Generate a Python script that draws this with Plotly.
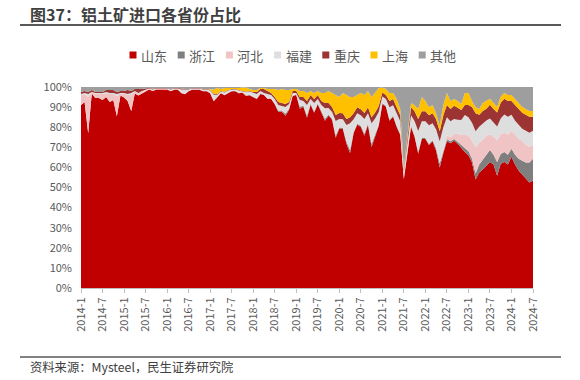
import plotly.graph_objects as go

# ---------------- data ----------------
months = [f"{y}-{m}" for y in range(2014, 2025) for m in range(1, 13)][:127]
tick_labels = months[::6]

series_names = ["山东", "浙江", "河北", "福建", "重庆", "上海", "其他"]
series_colors = ["#C00000", "#7F7F7F", "#F0C4C4", "#DEDEDE", "#9C3434", "#FFC000", "#9E9E9E"]

shandong = [
    91, 93, 77, 97, 95, 94.5, 93.5, 95, 92.5, 93.5,
    85.5, 96, 95, 93, 88, 97, 96, 97, 98, 99,
    98, 99, 99, 99, 99, 98, 99, 99, 97, 96,
    98, 99, 99, 99, 98, 98, 97, 93, 95, 97,
    96, 97, 98, 98, 97, 97.5, 95.5, 96, 95, 94,
    96.5, 96, 94, 94, 91.5, 88, 88, 86, 89, 95.5,
    96, 89, 90.5, 85, 91.5, 87, 92, 88, 83, 86,
    84, 75, 80, 79, 72, 67, 77, 81, 80, 76,
    81, 70, 75, 81, 92, 90, 83, 85, 80, 76,
    54, 66, 80, 75, 67, 74, 74, 71, 73, 68,
    60, 67, 73, 72, 73, 72, 70, 68, 66, 63,
    54, 58, 59, 62, 64, 62, 57, 63, 64, 62,
    66, 62, 59, 57, 55, 53, 54,
]
zhejiang = (
    [0] * 22 + [0.1] * 26 +
    [0.2, 0.2, 0.2, 0.2, 0.2, 0.2, 0.3, 0.5, 0.5, 1, 0.5, 0.2, 0.2, 1, 0.5, 1, 0.5, 0.5,
     0.3, 0.5, 1, 0.5, 0.5, 1, 0.5, 0.5, 1, 1.5, 0.5, 0.5, 0.5, 1, 0.5, 1.5, 1, 0.5] +
    [0.5, 0.5, 0.5, 0.5, 0.5, 0.5, 0.5, 0.5, 0.5, 0.5, 1, 0.5, 0.5, 0.5, 0.5, 1,
     2, 1, 1, 1] +
    [0.8, 1, 1.5, 1.5, 2, 2, 3, 4, 5, 6, 6, 5, 7, 5, 5, 5, 4, 5, 6, 7, 8, 10, 11]
)
hebei = (
    [5, 4, 18, 0.5, 2, 2, 3, 2, 4, 3, 10, 1, 2, 3, 8, 1, 1, 1, 0.5, 0.3, 0.5, 0.3] +
    [0.2] * 26 + [0.3] * 50 + [0.5, 0.5] + [1, 1, 2, 2] +
    [2.5, 4, 5, 7, 8, 9, 13, 11, 10, 9, 8, 9, 11, 10, 10, 10, 9, 10, 10, 10, 9, 8, 7]
)
fujian = (
    [0.5, 0.5, 1.5, 0.3, 0.5, 0.5, 0.5, 0.5, 0.5, 0.5, 1, 0.3, 0.3, 0.5, 1, 0.3, 0.3, 0.3,
     0.3, 0.2, 0.3, 0.2] +
    [0.2, 0.2, 0.2, 0.5, 0.3, 0.3, 1.5, 2, 0.5, 0.3, 0.2, 0.3, 0.5, 0.5, 1, 3, 1, 0.5, 1, 1,
     0.5, 0.5, 1, 0.5, 1.5, 1.5] +
    [1.5, 2, 1, 0.5, 2, 1.5, 2, 2.5, 2, 3, 2, 1, 0.5, 3, 2, 5, 2, 4, 2, 3, 5, 3, 3, 7, 4, 4,
     8, 13, 6, 5, 5, 7, 5, 10, 8, 6] +
    [3, 3, 6, 5, 6, 6, 3, 5, 5, 7, 10, 8, 8, 9, 8, 9, 10, 11, 9, 8] +
    [7.5, 7, 7.5, 10, 9, 9, 8, 8, 8, 8, 8, 7, 7, 8, 9, 9, 8, 7, 7, 6, 7, 7, 7]
)
chongqing = (
    [1, 1, 1, 1, 0.5, 0.5, 0.5, 1, 1.5, 1.5, 1, 1, 1, 2, 1, 1, 2, 1, 0.5, 0.3, 0.3, 0.3] +
    [0.3, 0.3, 0.3, 0.3, 0.3, 0.3, 0.5, 0.3, 0.3, 0.3, 0.3, 0.3, 0.3, 0.3, 0.3, 0.5, 0.3,
     0.3, 0.3, 0.3, 0.3, 0.3, 0.3, 0.3, 0.3, 0.3] +
    [0.5, 1, 1, 2, 1.5, 1, 1, 1.5, 1.5, 1.5, 1, 1, 1, 1.5, 2, 2, 2, 2, 2, 2, 2.5, 2.5, 2.5,
     3, 3, 3, 3, 3, 3, 3, 3, 3, 3, 3, 3, 3] +
    [2, 2, 3, 3, 3, 3, 1, 2, 4, 5, 6, 5, 5, 5, 5, 5, 5, 6, 6, 6] +
    [6.5, 6, 5, 5, 6, 8, 9, 6, 6, 6, 7, 7, 7, 8, 8, 8, 7, 8, 8, 8, 8, 8, 7]
)
shanghai = (
    [0] * 36 +
    [0.5, 2, 3, 1, 2, 1, 0.5, 0.3, 1, 1.5, 2, 1] +
    [1, 1, 0.5, 0.5, 1, 2, 4, 6, 7, 7, 6, 1, 1, 3, 3, 4, 2, 3, 2, 4, 5, 6, 7, 10, 8, 10, 12,
     10, 8, 6, 8, 9, 8, 10, 10, 9] +
    [2.5, 3, 4, 3, 4, 3, 1, 2, 2, 3, 5, 7, 5, 4, 4, 3, 3, 5, 6, 4] +
    [3.3, 3.3, 3, 6, 6, 3, 3, 3, 4, 4, 3, 3, 3, 3, 3, 3, 3, 3, 3, 3, 3, 3, 3]
)
others = (
    [2.5, 2, 2.5, 1.5, 2.5, 2.5, 2.5, 1.5, 1.5, 1.5, 2.5, 2, 2, 1.5, 2, 1, 1, 1] +
    [0.7, 0.5, 0.9, 0.5, 0.5, 0.5, 0.5, 1, 0.5, 0.5, 0.8, 1, 1, 0.5, 0.5, 0.5, 1, 1, 1, 1.3,
     0.5, 1, 0.5, 0.5, 0.5, 0.7, 0.5, 0.3, 0.3, 1] +
    [1.5, 1.5, 0.5, 0.5, 1, 1, 1, 1.5, 1, 1.5, 1.5, 1, 1, 2, 2, 3, 2, 3, 2, 3, 3, 2, 3, 4, 5,
     3, 4, 5, 5, 4, 3, 4, 2, 5, 2.7, 0.5] +
    [0.3, 1, 3, 3, 6, 11, 40, 24, 8, 9, 11, 5, 7, 10, 9, 13, 19, 9, 3, 7] +
    [6, 7, 8.5, 3, 3, 7, 10, 11, 8, 7, 6, 8, 10, 5, 3, 4, 4, 6, 8, 10, 11, 12, 12]
)

series_values = [shandong, zhejiang, hebei, fujian, chongqing, shanghai, others]
for s in series_values:
    assert len(s) == len(months), len(s)

# ---------------- figure ----------------
fig = go.Figure()
for k, (name, vals, col) in enumerate(zip(series_names, series_values, series_colors)):
    fig.add_trace(go.Scatter(
        x=months, y=vals, name=name, mode="lines",
        stackgroup="one", groupnorm="percent" if k == 0 else None,
        line=dict(width=0, color=col), fillcolor=col,
        showlegend=False,
    ))

W, H = 580, 380
L, R, T, B = 81, 533, 87, 288
pw, ph = R - L, B - T

def px(x):
    return (x - L) / pw

def py(y):
    return (B - y) / ph

shapes = []
annotations = []

# legend (manual: small squares + labels)
for k, (name, col) in enumerate(zip(series_names, series_colors)):
    cx = 133 + 48.2 * k
    cy = 55
    shapes.append(dict(type="rect", xref="paper", yref="paper",
                       x0=px(cx - 3.5), x1=px(cx + 3.5), y0=py(cy + 3.5), y1=py(cy - 3.5),
                       fillcolor=col, line=dict(width=0)))
    annotations.append(dict(text=name, xref="paper", yref="paper", x=px(cx + 6), y=py(cy),
                            xanchor="left", yanchor="middle", showarrow=False,
                            font=dict(size=13, color="#595959")))

# title underline and bottom rule
shapes.append(dict(type="line", xref="paper", yref="paper", x0=px(20), x1=px(561),
                   y0=py(25), y1=py(25), line=dict(color="#595959", width=2)))
shapes.append(dict(type="line", xref="paper", yref="paper", x0=px(20), x1=px(561),
                   y0=py(357), y1=py(357), line=dict(color="#595959", width=1.5)))

annotations.append(dict(text="<b>图37：铝土矿进口各省份占比</b>", xref="paper", yref="paper",
                        x=px(28), y=py(14), xanchor="left", yanchor="middle", showarrow=False,
                        font=dict(size=16, color="#404040")))
annotations.append(dict(text="资料来源：Mysteel，民生证券研究院", xref="paper", yref="paper",
                        x=px(28), y=py(367), xanchor="left", yanchor="middle", showarrow=False,
                        font=dict(size=12.3, color="#404040")))

fig.update_layout(
    width=W, height=H,
    margin=dict(l=L, r=W - R, t=T, b=H - B, pad=0),
    paper_bgcolor="white", plot_bgcolor="white",
    font=dict(family="Noto Sans CJK SC, Noto Sans, sans-serif", color="#595959"),
    showlegend=False,
    shapes=shapes, annotations=annotations,
    xaxis=dict(type="category", range=[0, len(months) - 1],
               tickmode="array", tickvals=tick_labels, ticktext=tick_labels,
               tickangle=-90, tickfont=dict(size=11, color="#595959"),
               showline=True, linecolor="#BFBFBF", linewidth=1,
               ticks="outside", ticklen=4, tickcolor="#BFBFBF",
               showgrid=False, zeroline=False),
    yaxis=dict(range=[0, 100], dtick=10, ticksuffix="%",
               tickfont=dict(size=11, color="#595959"),
               showgrid=False, zeroline=False, showline=False, ticks="",
               ticklabelstandoff=8),
)

fig.write_html(
    "out.html",
    config={"displayModeBar": False},
    post_script="document.body.style.margin='0';document.body.style.padding='0';",
)
